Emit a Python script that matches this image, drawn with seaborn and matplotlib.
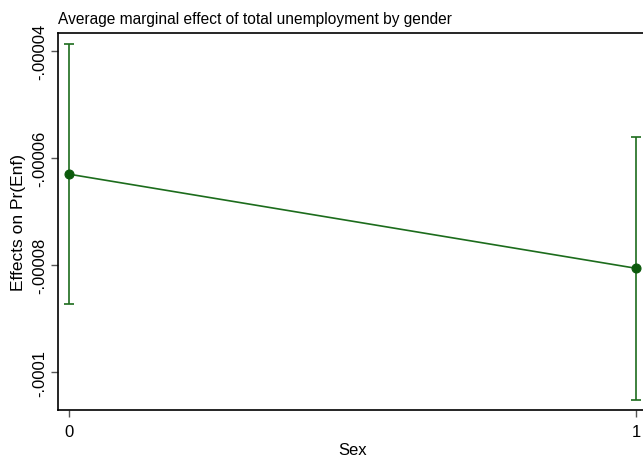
import matplotlib
matplotlib.use("Agg")
import matplotlib.pyplot as plt
import seaborn as sns
import pandas as pd

# Average marginal effects by sex, with 95% confidence limits
sex = [0, 1]
effect = [-0.0000630, -0.0000806]
ci_low = [-0.0000873, -0.0001052]
ci_high = [-0.0000387, -0.0000561]

y_ticks = [-0.00004, -0.00006, -0.00008, -0.0001]
y_tick_labels = ["-.00004", "-.00006", "-.00008", "-.0001"]
x_ticks = [0, 1]
x_tick_labels = ["0", "1"]

sns.set_theme(style="white")
plt.rcParams["font.family"] = ["Liberation Sans", "DejaVu Sans"]
plt.rcParams["text.color"] = "black"
plt.rcParams["axes.labelcolor"] = "black"
plt.rcParams["xtick.labelcolor"] = "black"
plt.rcParams["ytick.labelcolor"] = "black"

df = pd.DataFrame({"Sex": sex, "effect": effect})

fig = plt.figure(figsize=(6.43, 4.64), dpi=100)
ax = fig.add_axes([58 / 643, 53 / 464, 589 / 643, 377 / 464])

line_green = "#1c6c1c"
ax.errorbar(sex, effect,
            yerr=[[e - lo for e, lo in zip(effect, ci_low)],
                  [hi - e for e, hi in zip(effect, ci_high)]],
            fmt="none", ecolor=line_green, elinewidth=1.2,
            capsize=3.8, capthick=1.2, zorder=2)
sns.lineplot(data=df, x="Sex", y="effect", ax=ax, color=line_green,
             linewidth=1.2, marker="o", markersize=6.5,
             markerfacecolor="#0b5a0b", markeredgecolor="#0b5a0b", zorder=3)

ax.set_xlim(-0.0194, 1.0194)
ax.set_ylim(-0.0001071, -0.0000366)

ax.set_yticks(y_ticks)
ax.set_yticklabels(y_tick_labels, rotation=90, va="center", fontsize=12)
ax.set_xticks(x_ticks)
ax.set_xticklabels(x_tick_labels, fontsize=12)
ax.tick_params(axis="both", direction="out", length=5, width=1,
               color="#555555", pad=3, left=True, bottom=True,
               labelcolor="black")
ax.tick_params(axis="x", pad=5)

ax.set_xlabel("Sex", fontsize=12, labelpad=2, color="black")
ax.set_ylabel("Effects on Pr(Enf)", fontsize=12.5, labelpad=4, color="black")
ax.set_title("Average marginal effect of total unemployment by gender",
             loc="left", fontsize=11.2, pad=7, color="black")

for side in ["left", "bottom", "top", "right"]:
    ax.spines[side].set_color("black")
    ax.spines[side].set_linewidth(1.2)

fig.savefig("out.png", dpi=100, facecolor="white")
